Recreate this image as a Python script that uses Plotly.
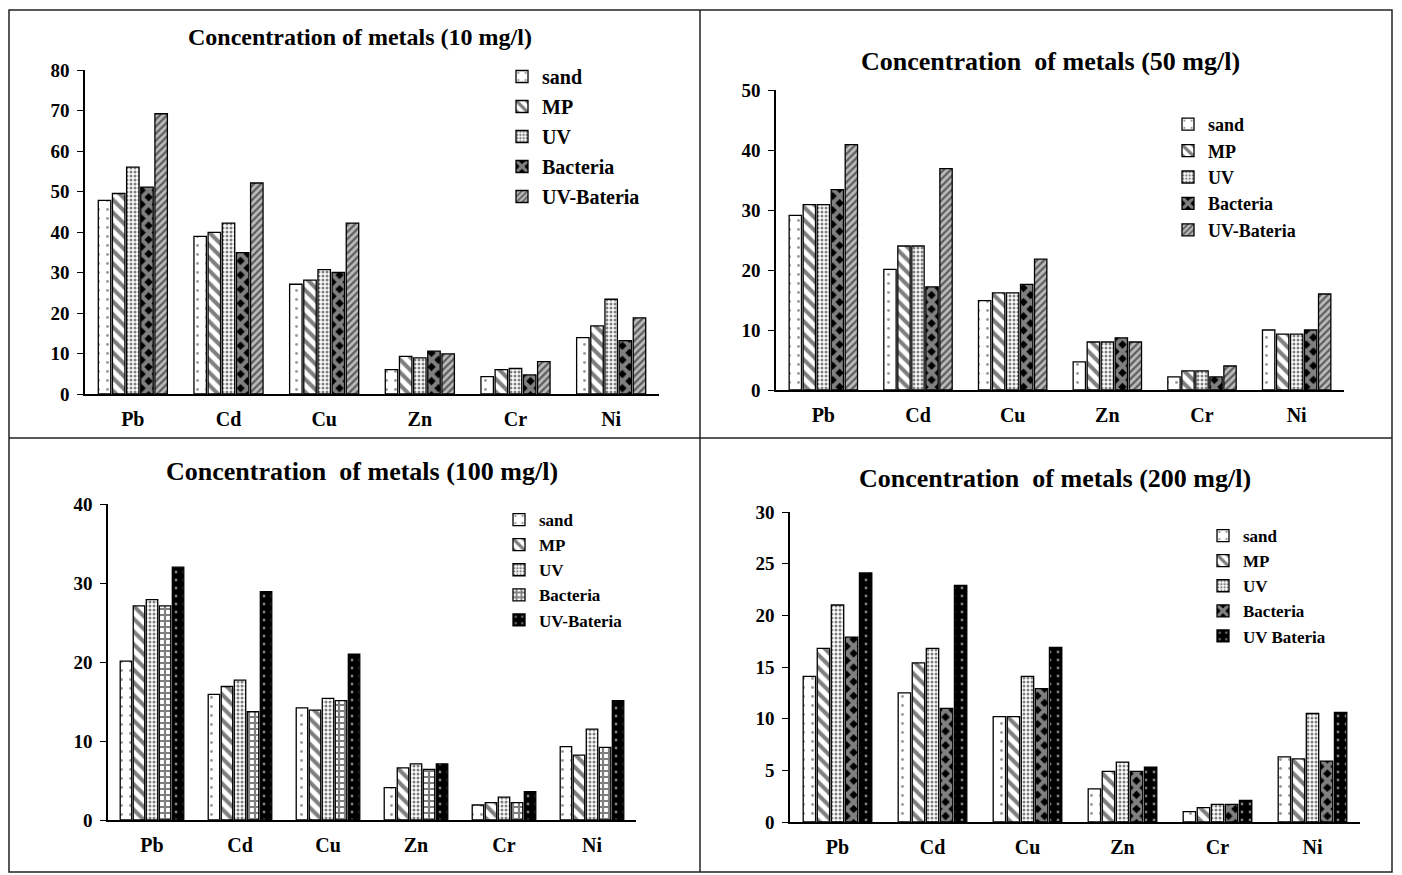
import plotly.graph_objects as go

metals = ["Pb", "Cd", "Cu", "Zn", "Cr", "Ni"]

# Panel 1: 10 mg/l
p10_sand = [47.8, 38.9, 27.1, 6.0, 4.3, 13.9]
p10_mp = [49.5, 39.9, 28.1, 9.3, 6.0, 16.8]
p10_uv = [56.0, 42.2, 30.7, 8.9, 6.3, 23.4]
p10_bac = [51.1, 34.9, 30.0, 10.6, 4.7, 13.2]
p10_uvb = [69.2, 52.1, 42.2, 9.9, 8.0, 18.8]

# Panel 2: 50 mg/l
p50_sand = [29.1, 20.1, 14.9, 4.7, 2.2, 10.0]
p50_mp = [30.9, 24.0, 16.2, 8.0, 3.2, 9.3]
p50_uv = [30.9, 24.0, 16.2, 8.0, 3.2, 9.3]
p50_bac = [33.4, 17.2, 17.6, 8.7, 2.2, 10.0]
p50_uvb = [40.9, 36.9, 21.8, 8.0, 4.0, 16.0]

# Panel 3: 100 mg/l
p100_sand = [20.1, 15.9, 14.2, 4.1, 1.9, 9.3]
p100_mp = [27.1, 16.9, 13.9, 6.6, 2.2, 8.2]
p100_uv = [27.9, 17.7, 15.4, 7.1, 2.9, 11.5]
p100_bac = [27.1, 13.7, 15.1, 6.4, 2.2, 9.2]
p100_uvb = [32.0, 28.9, 21.0, 7.1, 3.6, 15.1]

# Panel 4: 200 mg/l
p200_sand = [14.1, 12.5, 10.2, 3.2, 1.0, 6.3]
p200_mp = [16.8, 15.4, 10.2, 4.9, 1.4, 6.1]
p200_uv = [21.0, 16.8, 14.1, 5.8, 1.7, 10.5]
p200_bac = [17.9, 11.0, 12.9, 4.9, 1.7, 5.9]
p200_uvb = [24.1, 22.9, 16.9, 5.3, 2.1, 10.6]

names_a = ["sand", "MP", "UV", "Bacteria", "UV-Bateria"]
names_d = ["sand", "MP", "UV", "Bacteria", "UV Bateria"]

titles = [
    "Concentration of metals (10 mg/l)",
    "Concentration\u00a0 of metals (50 mg/l)",
    "Concentration\u00a0 of metals (100 mg/l)",
    "Concentration\u00a0 of metals (200 mg/l)",
]

FONT = "Liberation Serif"
OFF = 8  # page body margin
W, H = 1402 - OFF, 875 - OFF

def px(x):
    return (x - OFF) / W

def py(y):
    return 1 - (y - OFF) / H

pat_sand = dict(shape=".", fgcolor="#333", bgcolor="white", size=9, solidity=0.08)
pat_mp = dict(shape="\\", fgcolor="black", bgcolor="white", size=9, solidity=0.45)
pat_uv = dict(shape=".", fgcolor="black", bgcolor="white", size=4, solidity=0.45)
pat_bac_d = dict(shape="x", fgcolor="white", bgcolor="black", size=10, solidity=0.65)
pat_bac_c = dict(shape="+", fgcolor="black", bgcolor="white", size=6, solidity=0.6)
pat_uvb_h = dict(shape="/", fgcolor="black", bgcolor="#bbb", size=5, solidity=0.45)
pat_uvb_k = dict(shape=".", fgcolor="white", bgcolor="black", size=8, solidity=0.1)

panels = [
    dict(data=[p10_sand, p10_mp, p10_uv, p10_bac, p10_uvb], names=names_a,
         pats=[pat_sand, pat_mp, pat_uv, pat_bac_d, pat_uvb_h],
         xd=[px(85), px(659)], yd=[py(394), py(70)], yr=[0, 80], dt=10,
         title=(360, 37, 24), leg=(502, 57, 20, 1)),
    dict(data=[p50_sand, p50_mp, p50_uv, p50_bac, p50_uvb], names=names_a,
         pats=[pat_sand, pat_mp, pat_uv, pat_bac_d, pat_uvb_h],
         xd=[px(776), px(1344)], yd=[py(390), py(90)], yr=[0, 50], dt=10,
         title=(1050, 62, 26), leg=(1168, 106, 18, 0)),
    dict(data=[p100_sand, p100_mp, p100_uv, p100_bac, p100_uvb], names=names_a,
         pats=[pat_sand, pat_mp, pat_uv, pat_bac_c, pat_uvb_k],
         xd=[px(108), px(636)], yd=[py(820), py(504)], yr=[0, 40], dt=10,
         title=(362, 472, 26), leg=(499, 502, 17, 0)),
    dict(data=[p200_sand, p200_mp, p200_uv, p200_bac, p200_uvb], names=names_d,
         pats=[pat_sand, pat_mp, pat_uv, pat_bac_d, pat_uvb_k],
         xd=[px(790), px(1360)], yd=[py(822), py(512)], yr=[0, 30], dt=5,
         title=(1055, 478, 26), leg=(1203, 518, 17, 0)),
]

fig = go.Figure()
layout = dict(
    width=W, height=H, margin=dict(l=0, r=0, t=0, b=0, autoexpand=False),
    paper_bgcolor="white", plot_bgcolor="white",
    barmode="group", bargap=0.26, bargroupgap=0.12,
    font=dict(family=FONT, color="black"),
    showlegend=True,
)
annotations = []
for i, p in enumerate(panels):
    k = "" if i == 0 else str(i + 1)
    legname = "legend" + k
    for j in range(5):
        fig.add_trace(go.Bar(
            x=metals, y=p["data"][j], name=p["names"][j],
            xaxis="x" + k, yaxis="y" + k, legend=legname,
            legendgroup=f"g{i}_{j}",
            marker=dict(color="white", line=dict(color="black", width=1.3),
                        pattern=p["pats"][j]),
        ))
    layout["xaxis" + k] = dict(
        domain=p["xd"], anchor="y" + k, showline=True, linecolor="black",
        linewidth=1.5, ticks="", showgrid=False, zeroline=False, automargin=False,
        tickfont=dict(family=FONT, size=20, color="black", weight="bold"),
        ticklabelstandoff=6,
    )
    layout["yaxis" + k] = dict(
        domain=p["yd"], anchor="x" + k, range=p["yr"], dtick=p["dt"],
        showline=True, linecolor="black", linewidth=1.5, ticks="outside",
        ticklen=6, tickcolor="black", showgrid=False, zeroline=False, automargin=False,
        tickfont=dict(family=FONT, size=19, color="black", weight="bold"),
        ticklabelstandoff=4,
    )
    lx, ly, lfs, gap = p["leg"]
    layout[legname] = dict(
        x=px(lx), y=py(ly), xanchor="left", yanchor="top",
        bgcolor="rgba(0,0,0,0)", traceorder="grouped", tracegroupgap=gap,
        itemwidth=30,
        font=dict(family=FONT, size=lfs, color="black", weight="bold"),
    )
    tx, ty, tfs = p["title"]
    annotations.append(dict(
        text=f"<b>{titles[i]}</b>", x=px(tx), y=py(ty), xref="paper", yref="paper",
        xanchor="center", yanchor="middle", showarrow=False,
        font=dict(family=FONT, size=tfs, color="black"),
    ))

lc = dict(color="#222", width=1.5)
shapes = [
    dict(type="rect", xref="paper", yref="paper", x0=px(9), x1=px(1392), y0=py(872), y1=py(10), line=lc),
    dict(type="line", xref="paper", yref="paper", x0=px(700), x1=px(700), y0=py(872), y1=py(10), line=lc),
    dict(type="line", xref="paper", yref="paper", x0=px(9), x1=px(1392), y0=py(438), y1=py(438), line=lc),
]
layout["annotations"] = annotations
layout["shapes"] = shapes
fig.update_layout(**layout)
fig.write_html("out.html")
